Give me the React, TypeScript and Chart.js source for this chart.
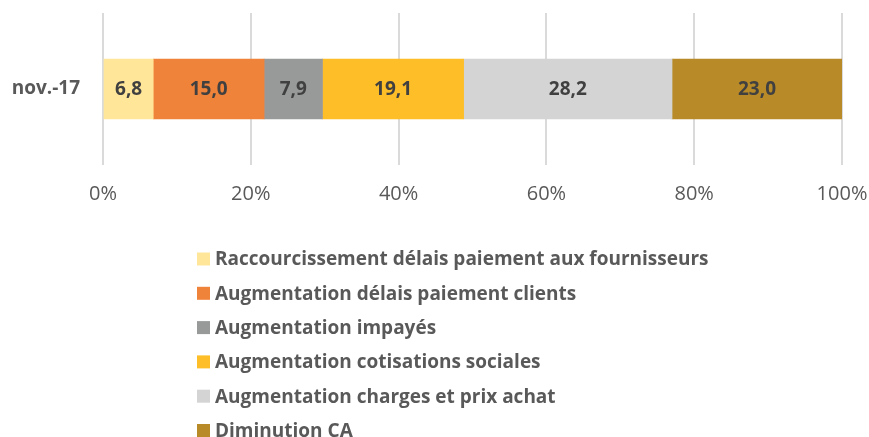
import React, { useEffect, useRef } from "react";
import { Chart, registerables } from "chart.js";

Chart.register(...registerables);

const categories = ["nov.-17"];
const seriesLabels = [
  "Raccourcissement délais paiement aux fournisseurs",
  "Augmentation délais paiement clients",
  "Augmentation impayés",
  "Augmentation cotisations sociales",
  "Augmentation charges et prix achat",
  "Diminution CA",
];
const seriesValues = [6.8, 15.0, 7.9, 19.1, 28.2, 23.0];
const seriesColors = ["#FFE699", "#F0833A", "#989A9A", "#FDBE28", "#D3D4D3", "#B88B28"];
const xMin = 0;
const xMax = 100;
const xStep = 20;

const FONT = "'Open Sans', sans-serif";

const valueLabelPlugin = {
  id: "valueLabels",
  afterDatasetsDraw(chart: any) {
    const ctx = chart.ctx;
    ctx.save();
    ctx.font = `bold 19px ${FONT}`;
    ctx.fillStyle = "#404040";
    ctx.textAlign = "center";
    ctx.textBaseline = "middle";
    chart.data.datasets.forEach((ds: any, i: number) => {
      const meta = chart.getDatasetMeta(i);
      meta.data.forEach((el: any, j: number) => {
        const v = ds.data[j];
        const cx = (el.x + el.base) / 2;
        ctx.fillText(v.toFixed(1).replace(".", ","), cx, el.y + 1);
      });
    });
    ctx.restore();
  },
};

const listLegendPlugin = {
  id: "listLegend",
  afterDraw(chart: any) {
    const ctx = chart.ctx;
    ctx.save();
    ctx.font = `bold 19px ${FONT}`;
    ctx.textAlign = "left";
    ctx.textBaseline = "middle";
    const x0 = 197;
    const y0 = 259;
    const step = 34.3;
    chart.data.datasets.forEach((ds: any, i: number) => {
      const y = y0 + i * step;
      ctx.fillStyle = ds.backgroundColor;
      ctx.fillRect(x0, y - 6.5, 13, 13);
      ctx.fillStyle = "#595959";
      ctx.fillText(ds.label, x0 + 18, y + 1);
    });
    ctx.restore();
  },
};

export default function App() {
  const ref = useRef<HTMLCanvasElement | null>(null);
  useEffect(() => {
    if (!ref.current) return;
    const chart = new Chart(ref.current, {
      type: "bar",
      data: {
        labels: categories,
        datasets: seriesLabels.map((label, i) => ({
          label,
          data: [seriesValues[i]],
          backgroundColor: seriesColors[i],
          borderWidth: 0,
          barThickness: 60,
        })),
      },
      options: {
        indexAxis: "y",
        animation: false,
        responsive: true,
        maintainAspectRatio: false,
        layout: { padding: { top: 13, right: 27, left: 0, bottom: 0 } },
        plugins: {
          legend: { display: false },
          tooltip: { enabled: false },
        },
        scales: {
          x: {
            stacked: true,
            min: xMin,
            max: xMax,
            afterFit: (s: any) => {
              s.height = 272;
            },
            grid: {
              color: "#DADADA",
              lineWidth: 2,
              drawTicks: true,
              tickLength: 17,
              tickColor: "rgba(0,0,0,0)",
            },
            border: { display: false },
            ticks: {
              stepSize: xStep,
              padding: 0,
              color: "#595959",
              font: { family: FONT, size: 20 },
              callback: (v: any) => v + "%",
            },
          },
          y: {
            stacked: true,
            afterFit: (s: any) => {
              s.width = 103;
            },
            grid: {
              display: true,
              drawOnChartArea: false,
              color: "rgba(0,0,0,0)",
              drawTicks: true,
              tickLength: 23,
              tickColor: "rgba(0,0,0,0)",
            },
            border: { display: false },
            ticks: {
              padding: 0,
              color: "#595959",
              font: { family: FONT, size: 19, weight: "bold" },
            },
          },
        },
      },
      plugins: [valueLabelPlugin, listLegendPlugin],
    } as any);
    return () => chart.destroy();
  }, []);
  return (
    <div style={{ position: "absolute", left: 0, top: 0, width: 869, height: 437 }}>
      <canvas ref={ref} />
    </div>
  );
}
